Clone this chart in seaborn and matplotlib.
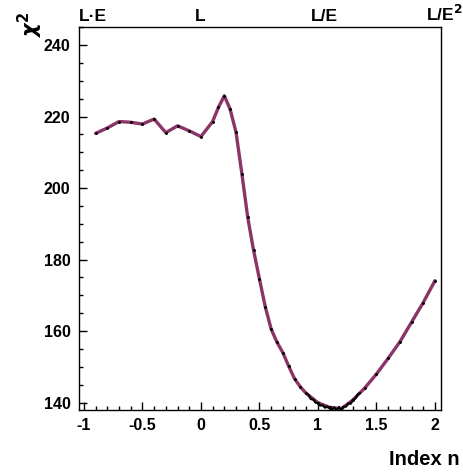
import numpy as np
import pandas as pd
import matplotlib
matplotlib.use("Agg")
import matplotlib.pyplot as plt
from matplotlib.ticker import MultipleLocator
from matplotlib import transforms
import seaborn as sns

sns.set_style("ticks")
plt.rcParams['font.family'] = ['Liberation Sans', 'DejaVu Sans']
plt.rcParams['font.weight'] = 'bold'
plt.rcParams['mathtext.fontset'] = 'dejavusans'
plt.rcParams['text.color'] = 'black'
plt.rcParams['xtick.color'] = 'black'
plt.rcParams['ytick.color'] = 'black'

# coarse scan of the index n (extra read-off points where the curve bends)
index_n = [-0.9, -0.8, -0.7, -0.6, -0.5, -0.4, -0.3, -0.2, -0.1, 0.0,
           0.1, 0.15, 0.2, 0.25, 0.3, 0.35, 0.4, 0.45, 0.5, 0.55, 0.6, 0.65,
           0.7, 0.75, 0.8, 0.85, 0.9, 1.0,
           1.1, 1.2, 1.3, 1.4, 1.5, 1.6, 1.7, 1.8, 1.9, 2.0]
chi2 = [215.3, 216.8, 218.6, 218.4, 217.9, 219.3, 215.5, 217.4, 216.0, 214.4,
        218.6, 222.6, 225.8, 222.0, 215.6, 204.0, 191.8, 182.6, 174.6, 166.8, 160.6, 156.9,
        154.0, 150.2, 146.7, 144.4, 142.6, 140.0,
        138.7, 138.3, 140.8, 144.1, 148.0, 152.4, 157.0, 162.5, 168.0, 174.1]

# fine scan around the minimum
fine_n = [0.92, 0.94, 0.96, 0.98, 1.00, 1.02, 1.04, 1.06, 1.08, 1.10, 1.12, 1.14,
          1.16, 1.18, 1.20, 1.22, 1.24, 1.26, 1.28, 1.30, 1.32, 1.34, 1.36]
fine_chi2 = [142.2, 141.0, 140.9, 140.0, 139.9, 139.2, 139.3, 138.6, 138.9, 138.4,
             138.0, 138.7, 137.9, 138.8, 137.9, 138.9, 138.9, 139.8, 139.7, 140.8,
             141.2, 142.3, 142.7]

top_labels = ["L\u00b7E", "L", "L/E", "L/E$^{\\mathbf{2}}$"]
top_pos = [-1.04, -0.05, 0.94, 1.92]

coarse = pd.DataFrame({"n": index_n, "chi2": chi2})
fine = pd.DataFrame({"n": fine_n, "chi2": fine_chi2})

fig = plt.figure(figsize=(4.64, 4.76), dpi=100)
ax = fig.add_axes([0.170, 0.139, 0.780, 0.804])

sns.lineplot(data=coarse, x="n", y="chi2", color="#8a3468", lw=2.4,
             marker="o", markersize=1.3, markerfacecolor="black",
             markeredgecolor="black", ax=ax, zorder=3)
sns.lineplot(data=fine, x="n", y="chi2", color="black", lw=1.6, ax=ax, zorder=4)

ax.set_xlim(-1.043, 2.05)
ax.set_ylim(138, 245)
ax.xaxis.set_minor_locator(MultipleLocator(0.1))
ax.yaxis.set_minor_locator(MultipleLocator(5))
ax.set_yticks([140, 160, 180, 200, 220, 240])
ax.set_xticks([-1, -0.5, 0, 0.5, 1, 1.5, 2])
ax.set_xticklabels(["-1", "-0.5", "0", "0.5", "1", "1.5", "2"])
ax.tick_params(which="both", direction="in", top=False, right=False,
               labelsize=11.5, width=1.0, colors="black")
ax.tick_params(which="major", length=6, pad=6)
ax.tick_params(which="minor", length=3)
for lab in ax.get_xticklabels() + ax.get_yticklabels():
    lab.set_fontweight("bold")
for sp in ax.spines.values():
    sp.set_linewidth(1.0)
    sp.set_color("black")

ax.set_xlabel("")
ax.set_ylabel("")

trans = transforms.blended_transform_factory(ax.transData, ax.transAxes)
for lab, pos in zip(top_labels, top_pos):
    ax.text(pos, 1.008, lab, transform=trans, ha="left", va="bottom",
            fontsize=12.5, fontweight="bold", color="black")

fig.text(0.99, 0.015, "Index n", ha="right", va="bottom",
         fontsize=14.5, fontweight="bold", color="black")
fig.text(0.035, 0.975, r"$\chi^2$", rotation=90, ha="left", va="top",
         fontsize=15, fontweight="normal", color="black")

fig.savefig("out.png", dpi=100)
